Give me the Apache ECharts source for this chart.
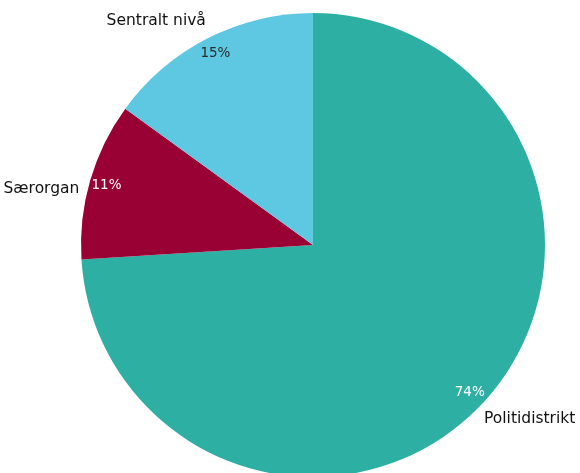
<!DOCTYPE html>
<html>
<head>
<meta charset="utf-8">
<script src="https://cdn.jsdelivr.net/npm/echarts@6/dist/echarts.min.js"></script>
<style>
  html, body { margin: 0; padding: 0; background: #fff; }
  #chart { width: 580px; height: 473px; }
</style>
</head>
<body>
<div id="chart"></div>
<script>
// Share by organisational level (percent), clockwise from 12 o'clock
const categories = ['Politidistrikt', 'Særorgan', 'Sentralt nivå'];
const shares = [74, 11, 15];
const sliceColors = ['#2EAFA4', '#990033', '#5EC8E2'];
const pctColors = ['#ffffff', '#ffffff', '#2a2a2a'];

const FONT = '"DejaVu Sans", Verdana, sans-serif';
const CENTER = [313, 245];
const R = 232;

const pieData = categories.map((name, i) => ({
  name,
  value: shares[i],
  itemStyle: { color: sliceColors[i] }
}));

const pctData = categories.map((name, i) => ({
  name,
  value: shares[i],
  label: { color: pctColors[i] }
}));

// small nudges for the category name labels
const nameShift = [[-6, 12], [-2, 10], [5, -14]];

const chart = echarts.init(document.getElementById('chart'), null, { renderer: 'canvas' });
chart.setOption({
  animation: false,
  series: [
    {
      type: 'pie',
      center: CENTER,
      radius: R,
      startAngle: 90,
      clockwise: true,
      avoidLabelOverlap: false,
      data: pieData,
      itemStyle: { borderWidth: 0 },
      label: {
        show: true,
        position: 'outside',
        formatter: '{b}',
        color: '#111',
        fontFamily: FONT,
        fontSize: 15.5
      },
      labelLine: { show: false, length: 4, length2: 0 },
      labelLayout: (p) => ({ dx: nameShift[p.dataIndex][0], dy: nameShift[p.dataIndex][1] }),
      emphasis: { disabled: true }
    },
    {
      type: 'pie',
      center: CENTER,
      radius: [192, 232],
      startAngle: 90,
      clockwise: true,
      silent: true,
      avoidLabelOverlap: false,
      data: pctData,
      itemStyle: { color: 'rgba(0,0,0,0)', borderWidth: 0 },
      label: {
        show: true,
        position: 'inside',
        formatter: (p) => p.value + '%',
        fontFamily: FONT,
        fontSize: 13.5
      },
      labelLine: { show: false },
      emphasis: { disabled: true }
    }
  ]
});
</script>
</body>
</html>
